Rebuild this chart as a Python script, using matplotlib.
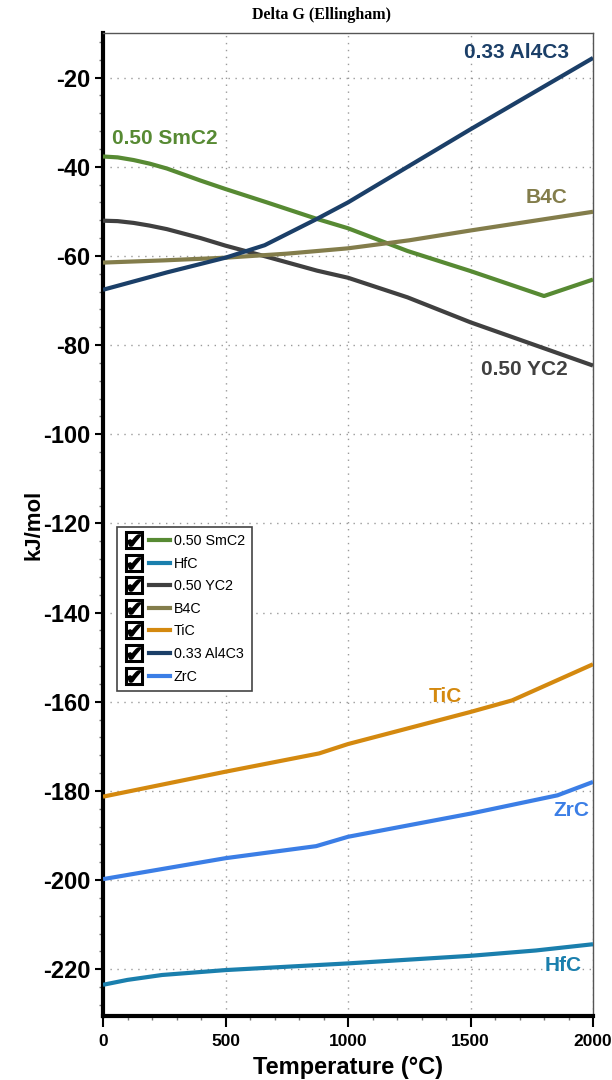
import matplotlib
matplotlib.use("Agg")
import matplotlib.pyplot as plt
from matplotlib.lines import Line2D
from matplotlib.legend_handler import HandlerTuple
from matplotlib.ticker import MultipleLocator

# ---------------- data ----------------
smc2_T = [0, 60, 125, 190, 261, 398, 500, 669, 873, 1000, 1243, 1500, 1800, 2000]
smc2_G = [-37.7, -37.9, -38.5, -39.3, -40.4, -43.1, -45.0, -48.0, -51.7, -53.8, -58.9, -63.4, -69.0, -65.3]

hfc_T = [0, 100, 241, 500, 1000, 1500, 1767, 2000]
hfc_G = [-223.5, -222.4, -221.3, -220.2, -218.7, -217.0, -215.8, -214.4]

yc2_T = [0, 60, 125, 190, 261, 398, 500, 669, 873, 1000, 1243, 1500, 2000]
yc2_G = [-52.1, -52.2, -52.6, -53.2, -54.0, -56.0, -57.7, -60.2, -63.3, -64.9, -69.3, -74.9, -84.6]

b4c_T = [0, 250, 500, 750, 1000, 1250, 1500, 1750, 2000]
b4c_G = [-61.5, -61.0, -60.4, -59.5, -58.3, -56.5, -54.3, -52.2, -50.1]

tic_T = [0, 500, 882, 1000, 1500, 1670, 2000]
tic_G = [-181.3, -175.7, -171.6, -169.5, -162.3, -159.7, -151.6]

al4c3_T = [0, 261, 500, 660, 873, 1000, 1250, 1500, 1750, 2000]
al4c3_G = [-67.6, -63.7, -60.4, -57.6, -51.7, -48.0, -39.8, -31.6, -23.6, -15.6]

zrc_T = [0, 500, 870, 1000, 1500, 1855, 2000]
zrc_G = [-199.8, -195.1, -192.4, -190.3, -185.1, -181.0, -178.0]

names = ["0.50 SmC2", "HfC", "0.50 YC2", "B4C", "TiC", "0.33 Al4C3", "ZrC"]
series_T = [smc2_T, hfc_T, yc2_T, b4c_T, tic_T, al4c3_T, zrc_T]
series_G = [smc2_G, hfc_G, yc2_G, b4c_G, tic_G, al4c3_G, zrc_G]
colors = ["#578a33", "#1a7fad", "#404040", "#837d4b", "#d4890f", "#1b3f68", "#3b7ee6"]

# in-plot label anchors (data coords) and alignment
label_pos = {
    "0.50 SmC2": (36, -33.7, "left"),
    "0.33 Al4C3": (1902, -14.3, "right"),
    "B4C": (1896, -46.8, "right"),
    "0.50 YC2": (1897, -85.5, "right"),
    "TiC": (1465, -158.9, "right"),
    "ZrC": (1985, -184.3, "right"),
    "HfC": (1955, -219.1, "right"),
}

xticks = [0, 500, 1000, 1500, 2000]
yticks = list(range(-220, 0, 20))

# ---------------- figure ----------------
FONT = ["Liberation Sans", "DejaVu Sans"]
plt.rcParams["font.family"] = FONT
plt.rcParams["axes.unicode_minus"] = False

fig = plt.figure(figsize=(6.12, 10.8), dpi=100)
ax = fig.add_axes([103 / 612, 1 - 1016 / 1080, 490 / 612, 983 / 1080])

line_handles = []
for name, T, G, c in zip(names, series_T, series_G, colors):
    (ln,) = ax.plot(T, G, color=c, lw=3.0, solid_capstyle="butt", solid_joinstyle="round", zorder=3)
    line_handles.append(ln)

for name, c in zip(names, colors):
    x, y, ha = label_pos[name]
    ax.text(x, y, name, color=c, fontsize=15, fontweight="bold", ha=ha, va="center", zorder=4)

ax.set_xlim(0, 2000)
ax.set_ylim(-230.5, -10)
ax.set_xticks(xticks)
ax.set_yticks(yticks)
ax.xaxis.set_minor_locator(MultipleLocator(100))
ax.yaxis.set_minor_locator(MultipleLocator(4))
ax.grid(True, which="major", linestyle=(0, (1, 4)), color="#9a9a9a", lw=1.0)

for lab in ax.get_xticklabels():
    lab.set_fontweight("bold")
for lab in ax.get_yticklabels():
    lab.set_fontweight("bold")
ax.tick_params(axis="x", which="major", labelsize=12.5, length=8, width=1.5, direction="out", pad=5, colors="black")
ax.tick_params(axis="y", which="major", labelsize=17, length=6, width=1.5, direction="out", pad=3, colors="black")
ax.tick_params(axis="both", which="minor", length=3, width=1.0, direction="out", color="#777777")

ax.spines["left"].set_linewidth(3)
ax.spines["bottom"].set_linewidth(3)
ax.spines["left"].set_color("black")
ax.spines["bottom"].set_color("black")
for s in ("top", "right"):
    ax.spines[s].set_linewidth(1.0)
    ax.spines[s].set_color("#555555")

ax.set_xlabel("Temperature (\u00b0C)", fontsize=17, fontweight="bold", labelpad=5)
ax.set_ylabel("kJ/mol", fontsize=16, fontweight="bold", labelpad=-1)

fig.text(322 / 612, 1 - 15 / 1080, "Delta G (Ellingham)", family=["Liberation Serif", "DejaVu Serif"],
         fontsize=11.5, fontweight="bold", ha="center", va="center")

# legend with checkbox + line handles
handles = []
hmap = {}
for ln in line_handles:
    box = Line2D([], [], linestyle="none", marker="s", markersize=11, markerfacecolor="white",
                 markeredgecolor="black", markeredgewidth=2.2)
    chk = Line2D([], [], linestyle="none", marker="$\u2714$", markersize=9, color="black")
    lh = Line2D([], [], color=ln.get_color(), lw=3.0)
    outer = ((box, chk), lh)
    handles.append(outer)
    hmap[outer] = HandlerTuple(ndivide=None, pad=0.3)

leg = ax.legend(handles, names, loc="upper left", bbox_to_anchor=(0.028, 0.4975), borderaxespad=0,
                handler_map=hmap,
                fontsize=10.3, handlelength=3.2, handletextpad=0.3, labelspacing=0.6,
                borderpad=0.5, frameon=True, fancybox=False, framealpha=1)
leg.get_frame().set_edgecolor("#444444")
leg.get_frame().set_linewidth(1.2)
leg.set_zorder(5)

fig.savefig("out.png", dpi=100)
